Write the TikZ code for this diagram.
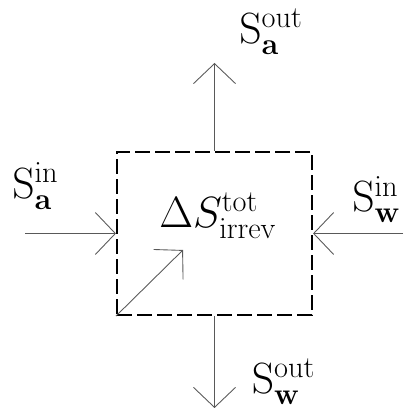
\documentclass[tikz,border=0pt]{standalone}
\usepackage{amsmath}
\usetikzlibrary{arrows.meta}
\DeclareMathSizes{26}{26}{19}{14}
\DeclareMathSizes{24}{24}{17.5}{13}

\begin{document}
\begin{tikzpicture}[
  flow/.style={draw=black!65,line width=0.5pt,-{Straight Barb[length=0.4cm,width=0.84cm]}},
  lbl/.style={font=\fontsize{26}{30}\selectfont}]
  \useasboundingbox (0,0) rectangle (8.22,8.24);
  % control volume
  \node[draw,dash pattern=on 0.3cm off 0.1cm,line width=1.2pt,
        minimum width=3.9cm,minimum height=3.26cm] (sys) at (4.29,3.57) {};
  \coordinate (aout) at (4.29,6.98);
  \coordinate (wout) at (4.29,0.08);
  \coordinate (ain) at (0.5,3.57);
  \coordinate (win) at (8.06,3.57);
  \coordinate (irr) at (3.66,3.24);
  \draw[flow] (sys.north) -- (aout);
  \draw[flow] (sys.south) -- (wout);
  \draw[flow] (ain) -- (sys.west);
  \draw[flow] (win) -- (sys.east);
  \draw[flow] (sys.south west) -- (irr);
  % labels
  \node[lbl] (laout) at (5.42,7.6) {$\mathrm{S}^{\mathrm{out}}_{\mathbf{a}}$};
  \node[lbl] (lain) at (0.71,4.52) {$\mathrm{S}^{\mathrm{in}}_{\mathbf{a}}$};
  \node[lbl] (lwin) at (7.53,4.25) {$\mathrm{S}^{\mathrm{in}}_{\mathbf{w}}$};
  \node[lbl] (lwout) at (5.67,0.6) {$\mathrm{S}^{\mathrm{out}}_{\mathbf{w}}$};
  \node[lbl,font=\fontsize{24}{28}\selectfont] (ltot) at (4.36,3.92) {$\Delta S^{\mathrm{tot}}_{\mathrm{irrev}}$};
\end{tikzpicture}
\end{document}
